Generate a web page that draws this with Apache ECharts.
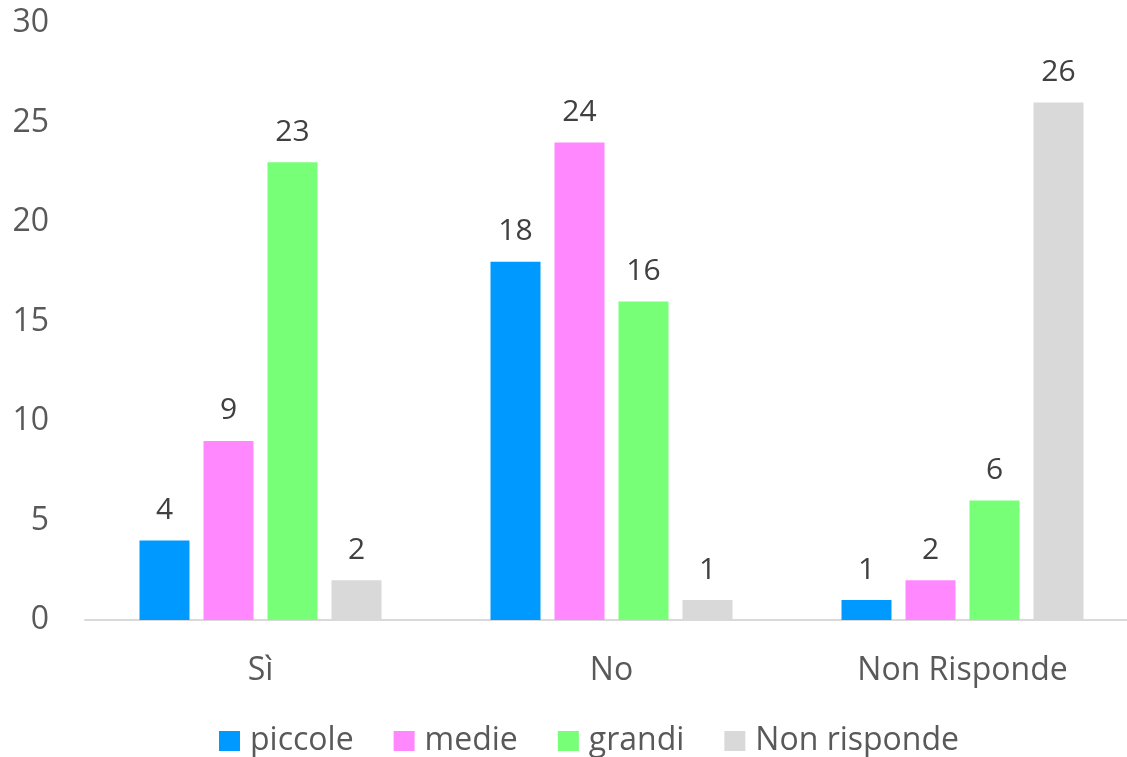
<!DOCTYPE html>
<html>
<head>
<meta charset="utf-8">
<script src="https://cdn.jsdelivr.net/npm/echarts@6/dist/echarts.min.js"></script>
<style>
html,body{margin:0;padding:0;background:#fff;overflow:hidden;width:1127px;height:757px;}
#chart{width:1140px;height:757px;}
</style>
</head>
<body>
<div id="chart"></div>
<script>
const categories = ['Sì', 'No', 'Non Risponde'];
const seriesNames = ['piccole', 'medie', 'grandi', 'Non risponde'];
const piccole = [4, 18, 1];
const medie = [9, 24, 2];
const grandi = [23, 16, 6];
const nonRisponde = [2, 1, 26];
const yTicks = [0, 5, 10, 15, 20, 25, 30];

const colors = ['#0099FF', '#FF88FF', '#77FF77', '#D9D9D9'];
const values = [piccole, medie, grandi, nonRisponde];
const FONT = 'Open Sans';

const chart = echarts.init(document.getElementById('chart'));
chart.setOption({
  animation: false,
  textStyle: { fontFamily: FONT },
  grid: { left: 85, width: 1053, top: 23, bottom: 137, containLabel: false },
  legend: {
    data: seriesNames,
    top: 716,
    left: 214,
    itemWidth: 21,
    itemHeight: 20,
    itemGap: 40,
    icon: 'rect',
    textStyle: { fontSize: 32, lineHeight: 40, color: '#595959', fontFamily: FONT, padding: [0, 0, 0, 5] }
  },
  xAxis: {
    type: 'category',
    data: categories,
    axisLine: { lineStyle: { color: '#D9D9D9', width: 2 } },
    axisTick: { show: false },
    axisLabel: { fontSize: 32, color: '#595959', margin: 35, fontFamily: FONT }
  },
  yAxis: {
    type: 'value',
    min: yTicks[0],
    max: yTicks[yTicks.length - 1],
    interval: 5,
    splitLine: { show: false },
    axisLine: { show: false },
    axisTick: { show: false },
    axisLabel: { fontSize: 32, color: '#595959', margin: 36, fontFamily: FONT }
  },
  series: seriesNames.map((n, i) => ({
    name: n,
    type: 'bar',
    data: values[i],
    barWidth: 50,
    barGap: '28%',
    itemStyle: { color: colors[i] },
    label: {
      show: true,
      position: 'top',
      distance: 15,
      fontSize: 30,
      color: '#404040',
      fontFamily: FONT
    }
  }))
});
</script>
</body>
</html>
